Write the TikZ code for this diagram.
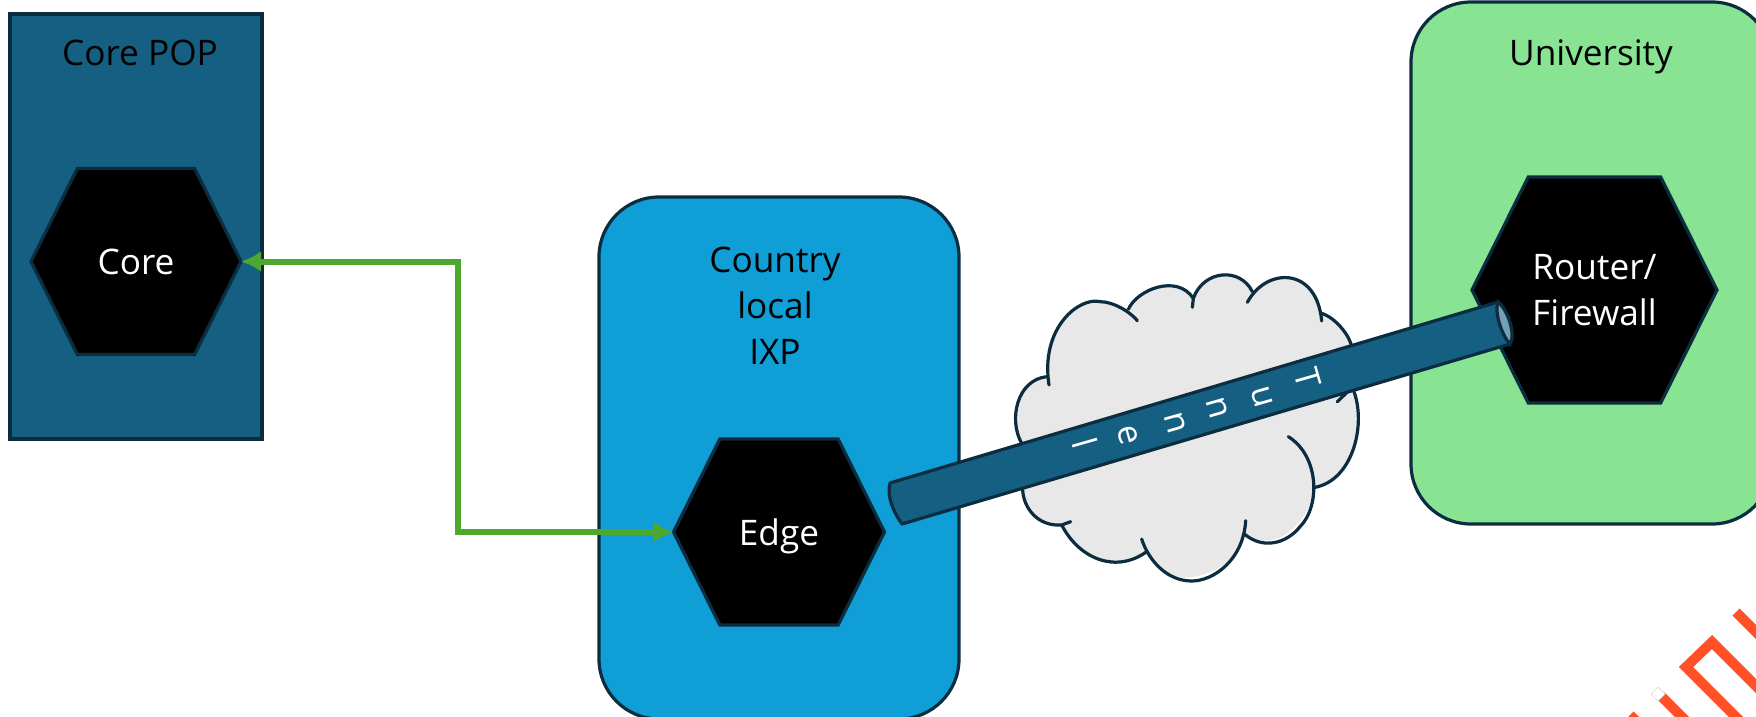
\documentclass[tikz,border=0pt]{standalone}
\usepackage{fontspec}
\setmainfont{Open Sans}
\usetikzlibrary{shapes.symbols,arrows.meta}
\definecolor{teal}{HTML}{156082}
\definecolor{ixp}{HTML}{0F9ED5}
\definecolor{uni}{HTML}{88E392}
\definecolor{edgeline}{HTML}{0B2D3F}
\definecolor{cloudfill}{HTML}{E8E8E8}
\definecolor{tubeend}{HTML}{73A0B4}
\definecolor{link}{HTML}{4EA72E}
\definecolor{logo}{HTML}{FF5028}
\tikzset{
  x=0.5pt,y=-0.5pt,
  panel/.style={draw=edgeline,line width=1.6pt,inner sep=0pt,outer sep=0pt},
  hexnode/.style={signal,signal to=east and west,draw=edgeline,fill=black,text=white,line width=1.6pt,
    inner sep=0pt,outer sep=0pt,font=\fontsize{17.6}{23}\selectfont,align=center},
  caption/.style={text=black,font=\fontsize{17.6}{23}\selectfont,align=center,inner sep=0pt},
  outline/.style={draw=edgeline,line width=1.6pt,line cap=round},
  tubeletter/.style={text=white,rotate=-74,inner sep=0pt,font=\fontsize{17}{20}\selectfont},
  linkline/.style={draw=link,line width=3pt,{Latex[length=10pt,width=10.5pt]}-{Latex[length=10pt,width=10.5pt]}},
  logoline/.style={draw=logo,line width=5pt,line cap=butt,miter limit=10}
}
\begin{document}
\begin{tikzpicture}
\useasboundingbox (0,0) rectangle (1756,717);
\clip (0,0) rectangle (1756,717);
% panels
\node[panel,fill=teal,minimum width=126pt,minimum height=212.5pt] (pop) at (136,226.5) {};
\node[panel,fill=ixp,rounded corners=30pt,minimum width=180pt,minimum height=261pt] (ixp) at (779,458) {};
\node[panel,fill=uni,rounded corners=30pt,minimum width=180.5pt,minimum height=261pt] (univ) at (1591.5,263) {};
\node[caption] (popl) at (140,53) {Core POP};
\node[caption] (ixpl) at (775,306) {Country\\local\\IXP};
\node[caption,text depth=0pt] (unil) at (1591,53) {University};
% hexagons
\node[hexnode,signal pointer angle=127,minimum width=105pt,minimum height=93pt] (core) at (136,261.5) {Core};
\node[hexnode,signal pointer angle=127,minimum width=105.5pt,minimum height=93pt,text depth=0pt] (edge) at (779,532) {Edge};
\node[hexnode,signal pointer angle=127,minimum width=122.5pt,minimum height=113pt] (router) at (1594.5,290) {Router/\\Firewall};
% connector
\coordinate (bend) at (458,400);
\draw[linkline] (core.east) -- (core.east -| bend) |- (edge.west);
% cloud
\begin{scope}[shift={(1000,250)},x=0.16667pt,y=-0.16667pt]
\fill[cloudfill] (140,380) .. controls (120,230) and (240,140) .. (300,155)
 .. controls (340,155) and (370,170) .. (385,178)
 .. controls (410,120) and (530,70) .. (580,145)
 .. controls (610,60) and (720,50) .. (757,125)
 .. controls (800,60) and (950,50) .. (965,190)
 .. controls (1010,205) and (1050,260) .. (1055,290)
 -- (1060,420) .. controls (1100,520) and (1060,690) .. (945,712)
 .. controls (930,800) and (840,920) .. (733,852)
 .. controls (720,950) and (520,1060) .. (440,905)
 .. controls (350,970) and (240,930) .. (185,825)
 .. controls (110,830) and (70,770) .. (68,720)
 -- (65,580) .. controls (25,510) and (50,390) .. (140,380) -- cycle;
\draw[outline] (147,405) .. controls (120,230) and (240,140) .. (300,155)
 .. controls (340,155) and (390,185) .. (412,212);
\draw[outline] (385,178) .. controls (410,120) and (530,70) .. (580,145) -- (577,172);
\draw[outline] (580,145) .. controls (610,60) and (720,50) .. (757,125);
\draw[outline] (742,157) .. controls (800,50) and (950,50) .. (965,213);
\draw[outline] (965,190) .. controls (1010,205) and (1050,260) .. (1055,290);
\draw[outline] (1012,455) -- (1040,428);
\draw[outline] (1060,420) .. controls (1100,520) and (1060,690) .. (945,712);
\draw[outline] (865,560) .. controls (960,620) and (960,770) .. (900,830) .. controls (860,880) and (790,900) .. (733,852);
\draw[outline] (737,812) .. controls (730,930) and (640,993) .. (575,993) .. controls (500,993) and (445,930) .. (425,867);
\draw[outline] (440,905) .. controls (350,970) and (240,930) .. (185,825);
\draw[outline] (212,815) -- (185,825) .. controls (110,830) and (70,770) .. (68,720);
\draw[outline] (65,580) .. controls (25,510) and (50,390) .. (140,380);
\end{scope}
% tunnel
\coordinate (tubeTL) at (890,483);
\coordinate (tubeBL) at (902,524);
\coordinate (tubeTR) at (1498,302);
\coordinate (tubeBR) at (1510,344);
\draw[outline,fill=teal,line join=round] (tubeTL) -- (tubeTR) .. controls (1508,310) and (1516,335) .. (tubeBR)
  -- (tubeBL) .. controls (896,516) and (886,498) .. (tubeTL) -- cycle;
\draw[outline,fill=tubeend] (tubeTR) .. controls (1508,310) and (1516,335) .. (tubeBR)
  .. controls (1502,336) and (1494,312) .. (tubeTR) -- cycle;
\node[tubeletter] (t1) at (1308,378) {T};
\node[tubeletter] (t2) at (1262,397) {u};
\node[tubeletter] (t3) at (1217,408) {n};
\node[tubeletter] (t4) at (1175,423) {n};
\node[tubeletter] (t5) at (1128,435) {e};
\node[tubeletter] (t6) at (1085,443) {l};
% logo
\draw[logoline] (1780,710) -- (1712,642) -- (1686,667) -- (1750,731);
\draw[logoline] (1736,612) -- (1776,652);
\draw[logoline] (1661,696) -- (1700,735);
\draw[logoline] (1630,715) -- (1640,725);
\fill[white,draw=black!15,line width=0.3pt,rotate around={45:(1658,694)}] (1653,689) rectangle (1663,699);
\end{tikzpicture}
\end{document}
